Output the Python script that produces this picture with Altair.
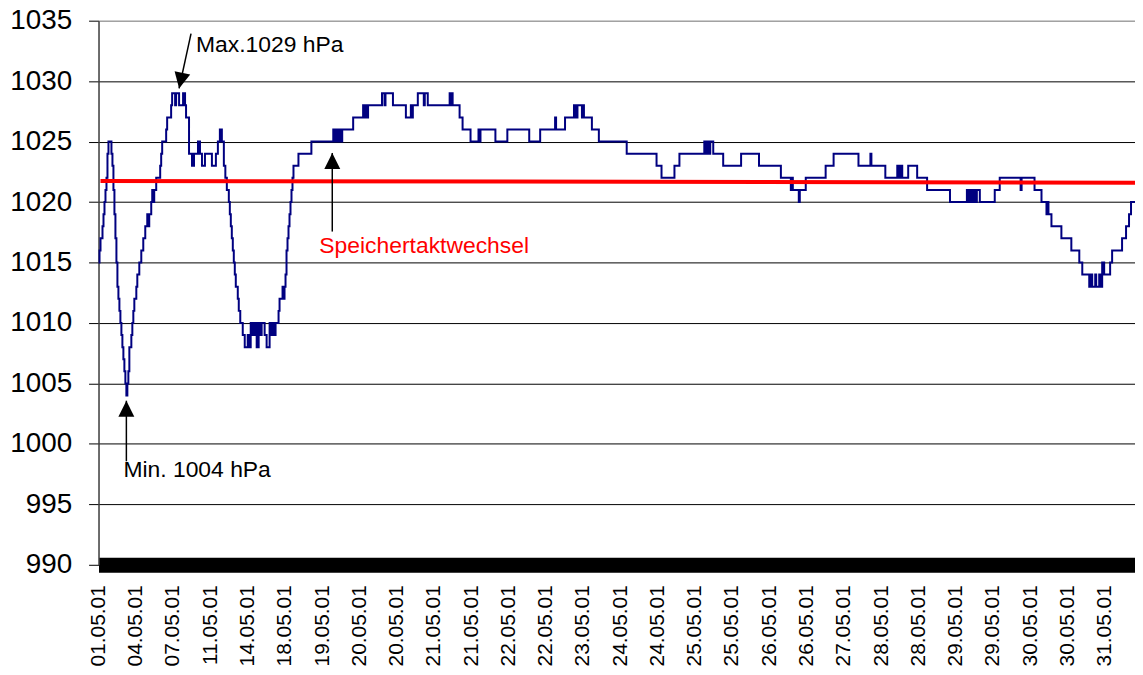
import json
import altair as alt
import pandas as pd

# ---- data (x = reading index along the category axis, y = pressure in hPa) ----
sample = [0, 1, 2, 4, 5, 6, 7, 8, 9, 10, 13, 14, 15, 16, 17, 18, 19, 20, 21, 22,
          23, 24, 25, 26, 27, 28, 29, 30, 31, 33, 34, 35, 36, 38, 39, 41, 43, 45, 47, 49,
          50, 51, 53, 54, 55, 56, 58, 62, 63, 64, 68, 69, 73, 74, 77, 78, 81, 85, 87, 88,
          91, 94, 96, 100, 102, 104, 107, 114, 118, 120, 122, 124, 126, 127.5, 129, 131, 132, 133, 134, 135,
          136, 137, 138, 140, 141, 142.5, 145, 147, 150, 151, 153, 155, 157, 159, 161, 163, 164, 167, 169, 172,
          174, 175, 177, 178, 181, 182, 185, 186, 187, 188, 189, 190, 191, 192, 193, 194, 195, 196, 201, 214,
          236, 238, 239, 241, 242, 244, 245, 256, 266, 267, 269, 270, 271, 285, 287.5, 288.5, 296, 309, 314, 315,
          316, 321, 327, 328, 331, 353, 354, 355, 356, 363, 366, 374, 382, 383, 384, 399, 411, 433, 444, 459,
          460, 469, 478, 480, 481.5, 486, 487, 488, 496, 503, 531, 561, 566, 579, 584, 609, 611, 612, 614, 615,
          618, 628, 646, 664, 686, 696, 697, 698, 704, 705, 711, 731, 739, 764, 776, 777, 791, 803, 804, 805,
          806, 807, 808, 814, 823, 833, 856, 873, 874, 876, 877, 879, 881, 883, 886, 901, 906, 927, 928, 941,
          948, 953, 954, 955, 958, 968, 978, 986, 989, 996, 998, 999, 1002, 1003, 1006, 1007, 1009, 1011, 1017, 1019,
          1029, 1033, 1036, 1038, 1042]
pressure = [1015, 1016, 1017, 1018, 1019, 1020, 1021, 1022, 1024, 1025, 1024, 1023, 1021, 1019, 1017, 1015, 1013, 1012, 1011, 1010,
            1009, 1008, 1007, 1006, 1005, 1004, 1005, 1006, 1008, 1009, 1010, 1011, 1012, 1013, 1014, 1015, 1016, 1017, 1018, 1019,
            1018, 1019, 1020, 1021, 1020, 1021, 1022, 1023, 1024, 1025, 1026, 1027, 1028, 1029, 1028, 1029, 1028, 1029, 1028, 1027,
            1024, 1023, 1024, 1025, 1024, 1023, 1024, 1023, 1024, 1025, 1026, 1025, 1023, 1022, 1021, 1020, 1019, 1018, 1017, 1016,
            1015, 1014, 1013, 1012, 1011, 1010, 1009, 1008, 1009, 1008, 1010, 1009, 1010, 1008, 1010, 1009, 1010, 1009, 1008, 1010,
            1009, 1010, 1009, 1010, 1011, 1012, 1013, 1012, 1013, 1014, 1016, 1017, 1018, 1019, 1020, 1021, 1022, 1023, 1024, 1025,
            1026, 1025, 1026, 1025, 1026, 1025, 1026, 1027, 1028, 1027, 1028, 1027, 1028, 1029, 1028, 1029, 1028, 1027, 1028, 1027,
            1028, 1029, 1028, 1029, 1028, 1029, 1028, 1029, 1028, 1027, 1026, 1025, 1026, 1025, 1026, 1025, 1026, 1025, 1026, 1027,
            1026, 1027, 1028, 1027, 1028, 1027, 1028, 1027, 1026, 1025, 1024, 1023, 1022, 1023, 1024, 1025, 1024, 1025, 1024, 1025,
            1024, 1023, 1024, 1023, 1022, 1021, 1022, 1021, 1020, 1021, 1022, 1023, 1024, 1023, 1024, 1023, 1022, 1023, 1022, 1023,
            1022, 1023, 1022, 1023, 1022, 1021, 1020, 1021, 1020, 1021, 1020, 1021, 1020, 1021, 1020, 1021, 1022, 1021, 1022, 1021,
            1020, 1019, 1020, 1019, 1018, 1017, 1016, 1015, 1014, 1013, 1014, 1013, 1014, 1013, 1014, 1013, 1015, 1014, 1015, 1016,
            1017, 1018, 1019, 1020, 1020]

x_tick_pos = [0, 37.5, 74.9, 112.4, 149.8, 187.3, 224.8, 262.2, 299.7, 337.1, 374.6, 412.1, 449.5, 487.0,
              524.4, 561.9, 599.4, 636.8, 674.3, 711.7, 749.2, 786.7, 824.1, 861.6, 899.0, 936.5, 974.0, 1011.4]
x_labels = ["01.05.01", "04.05.01", "07.05.01", "11.05.01", "14.05.01", "18.05.01", "19.05.01",
            "20.05.01", "20.05.01", "21.05.01", "21.05.01", "22.05.01", "22.05.01", "23.05.01",
            "24.05.01", "24.05.01", "25.05.01", "25.05.01", "26.05.01", "26.05.01", "27.05.01",
            "28.05.01", "28.05.01", "29.05.01", "29.05.01", "30.05.01", "30.05.01", "31.05.01"]
y_ticks = [990, 995, 1000, 1005, 1010, 1015, 1020, 1025, 1030, 1035]

# red reference line (Speichertaktwechsel)
ref_x = [2, 1042]
ref_y = [1021.75, 1021.6]

# annotations
note_text = ["Max.1029 hPa", "Min. 1004 hPa", "Speichertaktwechsel"]
note_x = [98, 25, 222]
note_y = [1032.45, 997.24, 1015.75]
note_color = ["black", "black", "#FF0000"]

arrow_x = [93, 28, 235]
arrow_y = [1033.93, 998.56, 1017.56]
arrow_x2 = [81, 28, 235]
arrow_y2 = [1029.4, 1003.57, 1024.06]
arrow_angle = [12, 180, 180]

FONT = "Liberation Sans"

df = pd.DataFrame({"sample": sample, "hPa": pressure})
ref_df = pd.DataFrame({"sample": ref_x, "hPa": ref_y})
note_df = pd.DataFrame({"sample": note_x, "hPa": note_y, "text": note_text, "color": note_color})
arrow_df = pd.DataFrame({"sample": arrow_x, "hPa": arrow_y, "sample2": arrow_x2, "hPa2": arrow_y2,
                         "angle": arrow_angle})

xscale = alt.Scale(domain=[0, 1042], nice=False, zero=False)
yscale = alt.Scale(domain=[990, 1035], nice=False, zero=False)

label_expr = f"{json.dumps(x_labels)}[indexof({json.dumps(x_tick_pos)}, datum.value)]"

x_axis = alt.Axis(values=x_tick_pos, tickCount=100, labelExpr=label_expr, labelAngle=270, labelFontSize=21,
                  labelPadding=20, ticks=False, tickSize=0, grid=False, domainColor="black",
                  domainWidth=15, title=None, labelColor="black", labelFont=FONT,
                  labelFlush=False, labelOverlap=False, labelBound=False)
y_axis = alt.Axis(values=y_ticks, tickCount=100, format="d", title=None, grid=True,
                  gridColor={"condition": {"test": "datum.value == 1035", "value": "#808080"},
                             "value": "black"},
                  gridWidth=1, tickSize=10, tickColor="black", labelFontSize=28, labelPadding=17,
                  labelColor="black", labelFont=FONT, domainColor="#404040", domainWidth=1.5,
                  labelFlush=False, labelOverlap=False)

line = alt.Chart(df).mark_line(color="#000080", strokeWidth=2, interpolate="step-after").encode(
    x=alt.X("sample:Q", scale=xscale, axis=x_axis),
    y=alt.Y("hPa:Q", scale=yscale, axis=y_axis),
)

ref = alt.Chart(ref_df).mark_line(color="#FF0000", strokeWidth=4).encode(
    x=alt.X("sample:Q", scale=xscale),
    y=alt.Y("hPa:Q", scale=yscale),
)

arrows = alt.Chart(arrow_df).mark_rule(color="black", strokeWidth=1.5).encode(
    x=alt.X("sample:Q", scale=xscale),
    y=alt.Y("hPa:Q", scale=yscale),
    x2="sample2:Q",
    y2="hPa2:Q",
)

heads = alt.Chart(arrow_df).mark_point(
    shape="M0,0L-0.5,-1L0.5,-1Z", filled=True, size=1024, color="black", opacity=1, strokeWidth=0
).encode(
    x=alt.X("sample2:Q", scale=xscale),
    y=alt.Y("hPa2:Q", scale=yscale),
    angle=alt.Angle("angle:Q", scale=None),
)

notes = alt.Chart(note_df).mark_text(font=FONT, fontSize=23, align="left", baseline="alphabetic").encode(
    x=alt.X("sample:Q", scale=xscale),
    y=alt.Y("hPa:Q", scale=yscale),
    text="text:N",
    color=alt.Color("color:N", scale=None),
)

chart = alt.layer(line, ref, arrows, heads, notes).properties(
    width=1042,
    height=547,
    autosize=alt.AutoSizeParams(type="none"),
    padding={"left": 91, "top": 11, "right": 0, "bottom": 100},
).configure_view(stroke="#808080", strokeWidth=1).configure(background="white")

chart.save("out.html", embed_options={"renderer": "svg", "actions": False})
